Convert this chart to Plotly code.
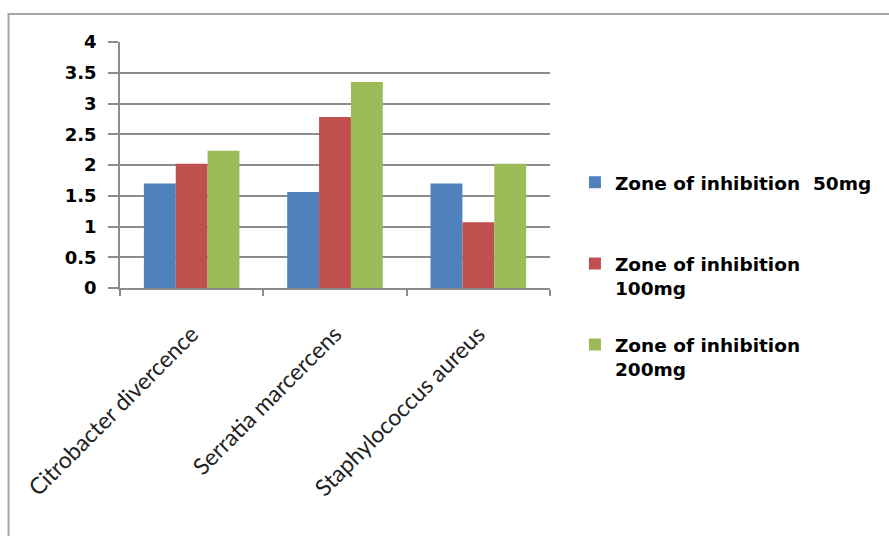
import plotly.graph_objects as go

categories = ["Citrobacter divercence", "Serratia marcercens", "Staphylococcus aureus"]
series_names = ["Zone of inhibition  50mg<br> ", "Zone of inhibition<br>100mg", "Zone of inhibition<br>200mg"]
zone_50 = [1.7, 1.56, 1.7]
zone_100 = [2.02, 2.78, 1.07]
zone_200 = [2.23, 3.35, 2.02]
colors = ["#4F81BD", "#C0504D", "#9BBB59"]
y_ticks = [0, 0.5, 1, 1.5, 2, 2.5, 3, 3.5, 4]

fig = go.Figure()
for i, (name, vals) in enumerate(zip(series_names, [zone_50, zone_100, zone_200])):
    fig.add_trace(go.Bar(x=categories, y=vals, name=name, marker_color=colors[i],
                         marker_line_width=0, legendgroup=f"g{i}"))

W, H = 889, 536
L, R, T, B = 120, 552, 42, 288
fig.update_layout(
    width=W, height=H,
    margin=dict(l=L, r=W - R, t=T, b=H - B),
    paper_bgcolor="white", plot_bgcolor="white",
    barmode="group", bargap=0.333, bargroupgap=0,
    showlegend=True,
    legend=dict(x=1.058, y=0.505, xanchor="left", yanchor="top",
                font=dict(family="DejaVu Sans", size=18.5, color="black", weight="bold"),
                valign="top", tracegroupgap=30, itemwidth=30),
    xaxis=dict(showgrid=False, showline=True, linecolor="#8c8c8c", linewidth=1.5,
               ticks="outside", tickson="boundaries", ticklen=6, tickcolor="#8c8c8c", tickwidth=1.5,
               tickangle=-45, ticklabelstandoff=22,
               tickfont=dict(family="Lato", size=23, color="#222")),
    yaxis=dict(range=[0, 4], tickvals=y_ticks, ticktext=[f"{v:g}" for v in y_ticks],
               showgrid=True, gridcolor="#8c8c8c", gridwidth=1.5,
               showline=True, linecolor="#8c8c8c", linewidth=1.5,
               ticks="outside", ticklen=10, tickcolor="#8c8c8c", tickwidth=1.5,
               zeroline=False, ticklabelstandoff=8,
               tickfont=dict(family="DejaVu Sans", size=18, color="black", weight="bold")),
)

# outer chart border (partially visible in reference)
pw, ph = R - L, B - T
x0 = (8 - L) / pw
y1 = (B - 14) / ph
fig.add_shape(type="rect", xref="paper", yref="paper", x0=x0, x1=3, y0=-3, y1=y1,
              line=dict(color="#a6a6a6", width=2), fillcolor="rgba(0,0,0,0)", layer="below")

fig.write_html("out.html")
